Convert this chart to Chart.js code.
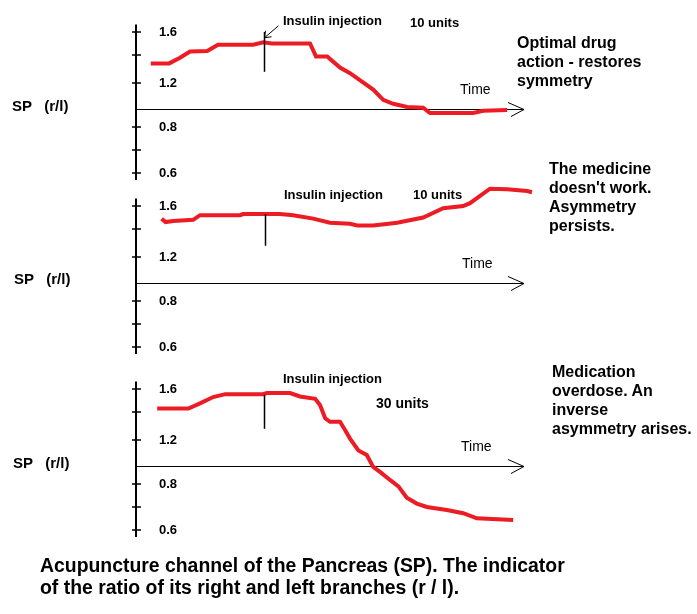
<!DOCTYPE html>
<html>
<head>
<meta charset="utf-8">
<script src="https://cdn.jsdelivr.net/npm/chart.js@4/dist/chart.umd.min.js"></script>
<style>
  html, body { margin: 0; padding: 0; background: #fff; }
  #page { position: relative; width: 697px; height: 614px; overflow: hidden;
          font-family: Arial, "Liberation Sans", sans-serif; color: #000; }
  #page canvas { position: absolute; left: 0; }
  .t { position: absolute; white-space: pre; line-height: 1; font-weight: bold; }
  .sp { font-size: 15px; }
  .inj { font-size: 13px; }
  .time { font-size: 14px; font-weight: normal; }
  .note { font-size: 16px; line-height: 19px; }
  .caption { font-size: 19.4px; line-height: 22px; left: 40px; top: 554px; }
</style>
</head>
<body>
<div id="page">
  <canvas id="c1" width="697" height="187" style="top:9px"></canvas>
  <canvas id="c2" width="697" height="187" style="top:183px"></canvas>
  <canvas id="c3" width="697" height="187" style="top:366px"></canvas>

  <div class="t sp" style="left:12px;top:98px">SP   (r/l)</div>
  <div class="t sp" style="left:14px;top:271px">SP   (r/l)</div>
  <div class="t sp" style="left:13px;top:455px">SP   (r/l)</div>

  <div class="t inj" style="left:283px;top:14px">Insulin injection</div>
  <div class="t inj" style="left:410px;top:16px">10 units</div>
  <div class="t inj" style="left:284px;top:188px">Insulin injection</div>
  <div class="t inj" style="left:413px;top:188px">10 units</div>
  <div class="t inj" style="left:283px;top:372px">Insulin injection</div>
  <div class="t inj" style="left:376px;top:396px;font-size:14px">30 units</div>

  <div class="t time" style="left:460px;top:82px">Time</div>
  <div class="t time" style="left:462px;top:256px">Time</div>
  <div class="t time" style="left:461px;top:439px">Time</div>

  <div class="t note" style="left:517px;top:33px">Optimal drug
action - restores
symmetry</div>
  <div class="t note" style="left:549px;top:159px">The medicine
doesn't work.
Asymmetry
persists.</div>
  <div class="t note" style="left:552px;top:362px">Medication
overdose. An
inverse
asymmetry arises.</div>

  <div class="t caption">Acupuncture channel of the Pancreas (SP). The indicator
of the ratio of its right and left branches (r / l).</div>
</div>

<script>
// time (arbitrary units, 0..100) and SP ratio r/l for each panel
const t1 = [3.7, 8.3, 11, 13.5, 17.8, 20.5, 29.3, 31.8, 34, 43.5, 45, 47.8, 51, 53.5, 59.3, 61.8, 64.3, 67.8, 71.8, 73.5, 84.3, 86.8, 92.8];
const sp1 = [1.34, 1.34, 1.38, 1.43, 1.435, 1.49, 1.49, 1.51, 1.50, 1.50, 1.39, 1.39, 1.31, 1.27, 1.15, 1.07, 1.04, 1.015, 1.01, 0.955, 0.955, 0.98, 0.99];

const t2 = [6.4, 7.4, 9.3, 14.3, 16, 26, 26.8, 36, 39.3, 44.3, 48.5, 53.5, 55.3, 59.3, 65.3, 71.8, 76.8, 81.8, 83.5, 88.5, 92.8, 97.8, 99];
const sp2 = [1.49, 1.46, 1.47, 1.48, 1.52, 1.52, 1.53, 1.53, 1.52, 1.49, 1.455, 1.445, 1.43, 1.43, 1.455, 1.50, 1.58, 1.60, 1.625, 1.75, 1.745, 1.73, 1.72];

const t3 = [5.3, 13.1, 16, 19.3, 22.3, 31.8, 32.7, 38.5, 41, 44.8, 46, 47.3, 48.5, 51, 52.3, 53.5, 55.6, 57.7, 59.3, 61, 63.5, 65.6, 67.7, 70.2, 72.7, 77.7, 81.8, 85.2, 94.3];
const sp3 = [1.43, 1.43, 1.475, 1.53, 1.555, 1.555, 1.565, 1.565, 1.535, 1.515, 1.46, 1.355, 1.33, 1.33, 1.27, 1.21, 1.12, 1.085, 0.99, 0.935, 0.845, 0.79, 0.74, 0.715, 0.70, 0.687, 0.673, 0.651, 0.643];

// injection moment and how high the marker reaches
const injectAt = [32, 32.3, 32];
const injectTop = [1.6, 1.53, 1.55];

// y axis as hand drawn: tick values and labels
const yTickMarks = [0.6, 0.7, 0.8, 1.2, 1.4, 1.6];
const yLabelVals = [0.6, 0.8, 1.2, 1.6];
const yLabelText = ['0.6', '0.8', '1.2', '1.6'];

// the drawn axis is not evenly spaced, so map values through its ticks
const knotVals = [0.6, 0.7, 0.8, 1.0, 1.2, 1.4, 1.6];
const knotPos = [0, 23, 46, 64, 90, 118, 141];

function knotMap(v) {
  let i = 0;
  if (v >= knotVals[knotVals.length - 1]) i = knotVals.length - 2;
  else if (v > knotVals[0]) while (v > knotVals[i + 1]) i++;
  const f = (v - knotVals[i]) / (knotVals[i + 1] - knotVals[i]);
  return knotPos[i] + f * (knotPos[i + 1] - knotPos[i]);
}

class SketchScale extends Chart.LinearScale {
  getPixelForValue(v) {
    const a = knotMap(this.min), b = knotMap(this.max);
    return this.getPixelForDecimal((knotMap(v) - a) / (b - a));
  }
  getValueForPixel(p) {
    const a = knotMap(this.min), b = knotMap(this.max);
    const pos = a + this.getDecimalForPixel(p) * (b - a);
    let lo = this.min, hi = this.max;
    for (let k = 0; k < 30; k++) {
      const mid = (lo + hi) / 2;
      if (knotMap(mid) < pos) lo = mid; else hi = mid;
    }
    return (lo + hi) / 2;
  }
}
SketchScale.id = 'sketch';
SketchScale.defaults = {};
Chart.register(SketchScale);

const FONT = 'Arial, "Liberation Sans", sans-serif';
const RED = '#ed1c24';

function line(ctx, x1, y1, x2, y2) {
  ctx.beginPath();
  ctx.moveTo(x1, y1);
  ctx.lineTo(x2, y2);
  ctx.stroke();
}

// axes drawn like the sketch: vertical axis with ticks, time arrow at 1.0
const sketchAxes = {
  id: 'sketchAxes',
  beforeDatasetsDraw(chart) {
    const { ctx, chartArea, scales: { x, y } } = chart;
    const left = chartArea.left;
    ctx.save();
    ctx.strokeStyle = '#000';
    ctx.lineWidth = 2;
    line(ctx, left, y.getPixelForValue(1.665), left, y.getPixelForValue(0.57));
    ctx.lineWidth = 1.5;
    yTickMarks.forEach(v => {
      const py = Math.round(y.getPixelForValue(v));
      line(ctx, left - 4, py, left + 5, py);
    });
    const ay = Math.round(y.getPixelForValue(1.0)) + 0.5;
    const tip = x.getPixelForValue(97);
    ctx.lineWidth = 1;
    line(ctx, left, ay, tip, ay);
    line(ctx, tip - 16, ay - 7, tip, ay);
    line(ctx, tip - 13, ay + 7, tip, ay);
    ctx.restore();
  },
  afterDatasetsDraw(chart, args, opts) {
    const { ctx, scales: { x, y } } = chart;
    const px = Math.round(x.getPixelForValue(opts.at)) + 0.5;
    ctx.save();
    ctx.strokeStyle = '#000';
    ctx.lineWidth = 1.5;
    line(ctx, px, y.getPixelForValue(opts.top), px, y.getPixelForValue(1.28));
    if (opts.pointer) {
      const py = y.getPixelForValue(1.55);
      ctx.lineWidth = 1;
      line(ctx, px, py, px + 14, py - 12);
      line(ctx, px, py, px + 1, py - 7);
      line(ctx, px, py, px + 7, py - 1);
    }
    ctx.restore();
  }
};

function makePanel(id, times, values, n) {
  new Chart(document.getElementById(id), {
    type: 'line',
    data: {
      datasets: [{
        data: times.map((t, i) => ({ x: t, y: values[i] })),
        borderColor: RED,
        borderWidth: 4,
        pointRadius: 0,
        tension: 0,
        fill: false
      }]
    },
    options: {
      responsive: false,
      animation: false,
      layout: { padding: { left: 136, right: 161, top: 0, bottom: 0 } },
      plugins: {
        legend: { display: false },
        tooltip: { enabled: false },
        sketchAxes: { at: injectAt[n], top: injectTop[n], pointer: n === 0 }
      },
      scales: {
        x: { type: 'linear', min: 0, max: 100, display: false },
        y: {
          type: 'sketch',
          min: 0.5,
          max: 1.8,
          bounds: 'data',
          position: 'left',
          grid: { display: false },
          border: { display: false },
          afterBuildTicks: s => { s.ticks = yLabelVals.map(v => ({ value: v })); },
          afterFit: s => { s.width = 0; s.paddingTop = 0; s.paddingBottom = 0; },
          ticks: {
            mirror: true,
            padding: 23,
            color: '#000',
            font: { family: FONT, size: 13, weight: 'bold' },
            callback: v => yLabelText[yLabelVals.indexOf(v)]
          }
        }
      }
    },
    plugins: [sketchAxes]
  });
}

makePanel('c1', t1, sp1, 0);
makePanel('c2', t2, sp2, 1);
makePanel('c3', t3, sp3, 2);
</script>
</body>
</html>
